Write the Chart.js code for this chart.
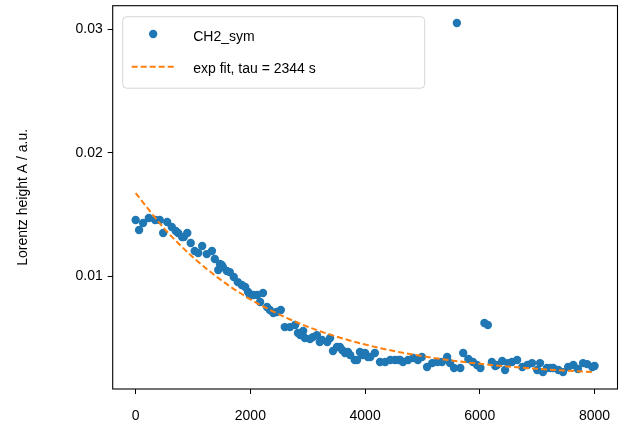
<!DOCTYPE html>
<html><head><meta charset="utf-8">
<script src="https://cdn.jsdelivr.net/npm/chart.js@4/dist/chart.umd.min.js"></script>
<style>html,body{margin:0;padding:0;background:#fff}#wrap{width:624px;height:427px;position:relative}</style>
</head><body><div id="wrap"><canvas id="c" width="624" height="427"></canvas></div>
<script>
// ---- data ----
const timeS = [0,60,130,230,340,420,480,550,630,700,740,810,840,900,960,1030,1090,1160,1240,1330,1380,1440,1470,1500,1520,1590,1640,1710,1780,1850,1910,1960,1990,2050,2120,2170,2220,2290,2340,2400,2460,2530,2600,2690,2780,2830,2870,2920,2950,3040,3090,3160,3210,3250,3340,3390,3440,3510,3560,3600,3650,3700,3740,3820,3860,3910,3960,4000,4050,4090,4170,4260,4350,4440,4520,4580,4610,4660,4750,4840,4920,4990,5080,5170,5260,5340,5430,5480,5550,5600,5660,5710,5800,5880,5950,6010,6080,6140,6210,6270,6300,6390,6440,6490,6560,6650,6740,6830,6910,7000,7050,7100,7170,7230,7280,7370,7450,7540,7630,7710,7800,7870,7960,8000];
const heightA = [0.01454,0.01373,0.01430,0.01470,0.01454,0.01454,0.01349,0.01438,0.01397,0.01365,0.01349,0.01316,0.01316,0.01349,0.01268,0.01203,0.01187,0.01243,0.01178,0.01203,0.01138,0.01049,0.01097,0.01089,0.01073,0.01041,0.01032,0.00992,0.00951,0.00927,0.00911,0.00870,0.00846,0.00846,0.00846,0.00789,0.00862,0.00749,0.00724,0.00700,0.00708,0.00724,0.00586,0.00586,0.00603,0.00538,0.00521,0.00554,0.00497,0.00489,0.00505,0.00521,0.00465,0.00481,0.00465,0.00497,0.00392,0.00424,0.00424,0.00400,0.00376,0.00384,0.00359,0.00319,0.00319,0.00384,0.00359,0.00376,0.00343,0.00343,0.00376,0.00303,0.00303,0.00319,0.00319,0.00319,0.00319,0.00303,0.00319,0.00335,0.00319,0.00343,0.00262,0.00294,0.00303,0.00303,0.00343,0.00294,0.00254,0.03052,0.00254,0.00376,0.00327,0.00303,0.00278,0.00254,0.00619,0.00603,0.00303,0.00270,0.00278,0.00311,0.00238,0.00294,0.00303,0.00319,0.00262,0.00278,0.00294,0.00238,0.00294,0.00221,0.00254,0.00254,0.00254,0.00238,0.00221,0.00262,0.00278,0.00246,0.00294,0.00286,0.00262,0.00270];
const fitTimeS = [0,500,1000,1500,2000,2500,3000,3500,4000,4500,5000,5500,6000,6500,7000,7500,8000];
const fitHeightA = [0.01673,0.01385,0.01152,0.00964,0.00811,0.00689,0.00589,0.00509,0.00445,0.00392,0.00350,0.00316,0.00288,0.00266,0.00248,0.00233,0.00221];
const xTicks = [0,2000,4000,6000,8000];
const yTicks = [0.01,0.02,0.03];
const seriesLabel = 'CH2_sym';
const fitLabel = 'exp fit, tau = 2344 s';
const yTitle = 'Lorentz height A / a.u.';

// ---- chart ----
const FONT = "'Liberation Sans', Arial, Helvetica, sans-serif";
Chart.defaults.font.family = FONT;
Chart.defaults.font.size = 14;
Chart.defaults.color = '#000';

const framePlugin = {
  id: 'frame',
  afterDatasetsDraw(chart) {
    const {ctx, chartArea: a} = chart;
    ctx.save();
    ctx.strokeStyle = '#000';
    ctx.lineWidth = 1.1;
    ctx.strokeRect(a.left, a.top, a.right - a.left, a.bottom - a.top);
    ctx.restore();
  }
};

const legendPlugin = {
  id: 'boxLegend',
  afterDraw(chart) {
    const {ctx, chartArea: a} = chart;
    const ds = chart.data.datasets;
    const x0 = a.left + 10, y0 = a.top + 11, w = 302, h = 71.5;
    ctx.save();
    ctx.beginPath();
    ctx.roundRect(x0, y0, w, h, 4);
    ctx.fillStyle = 'rgba(255,255,255,0.8)';
    ctx.fill();
    ctx.strokeStyle = 'rgba(204,204,204,0.8)';
    ctx.lineWidth = 1;
    ctx.stroke();
    // entry 1: marker
    ctx.fillStyle = ds[0].backgroundColor;
    ctx.beginPath();
    ctx.arc(x0 + 30.5, y0 + 17.3, 4.2, 0, 2 * Math.PI);
    ctx.fill();
    ctx.fillStyle = '#000';
    ctx.font = '14px ' + FONT;
    ctx.textBaseline = 'middle';
    ctx.textAlign = 'left';
    ctx.fillText(ds[0].label, x0 + 70.5, y0 + 20);
    // entry 2: dashed line
    ctx.strokeStyle = ds[1].borderColor;
    ctx.lineWidth = ds[1].borderWidth;
    ctx.setLineDash(ds[1].borderDash);
    ctx.beginPath();
    ctx.moveTo(x0 + 9, y0 + 50);
    ctx.lineTo(x0 + 52, y0 + 50);
    ctx.stroke();
    ctx.setLineDash([]);
    ctx.fillStyle = '#000';
    ctx.fillText(ds[1].label, x0 + 70.5, y0 + 52.5);
    ctx.restore();
  }
};

const gridOpts = {display: true, drawOnChartArea: false, drawTicks: true, tickLength: 5, color: '#000', lineWidth: 1};

new Chart(document.getElementById('c'), {
  type: 'scatter',
  data: {
    datasets: [
      {
        label: seriesLabel,
        data: timeS.map((t, i) => ({x: t, y: heightA[i]})),
        backgroundColor: '#1f77b4',
        borderColor: '#1f77b4',
        borderWidth: 0,
        pointRadius: 4.2,
        pointHoverRadius: 4.2,
        order: 1
      },
      {
        label: fitLabel,
        data: fitTimeS.map((t, i) => ({x: t, y: fitHeightA[i]})),
        showLine: true,
        borderColor: '#ff7f0e',
        backgroundColor: '#ff7f0e',
        borderWidth: 2,
        borderDash: [6, 3],
        pointRadius: 0,
        pointHoverRadius: 0,
        cubicInterpolationMode: 'monotone',
        fill: false,
        order: 0
      }
    ]
  },
  options: {
    responsive: false,
    animation: false,
    devicePixelRatio: 1,
    layout: {padding: {left: 0, right: 6.5, top: 5.7, bottom: 0}},
    plugins: {legend: {display: false}, tooltip: {enabled: false}},
    scales: {
      x: {
        type: 'linear', min: -400, max: 8400,
        afterBuildTicks: s => { s.ticks = xTicks.map(v => ({value: v})); },
        afterFit: s => { s.height = 38; s.paddingLeft = 0; s.paddingRight = 0; },
        grid: gridOpts,
        border: {display: false},
        ticks: {padding: 14, color: '#000', font: {size: 14}, maxRotation: 0, autoSkip: false, callback: v => String(v)}
      },
      y: {
        type: 'linear', min: 0.00084, max: 0.03192,
        afterBuildTicks: s => { s.ticks = yTicks.map(v => ({value: v})); },
        afterFit: s => { s.width = 112.7; s.paddingTop = 0; s.paddingBottom = 0; },
        grid: gridOpts,
        border: {display: false},
        ticks: {padding: 5, color: '#000', font: {size: 14}, autoSkip: false, callback: v => v.toFixed(2)},
        title: {display: true, text: yTitle, color: '#000', padding: {top: 15, bottom: 0}, font: {size: 14}}
      }
    }
  },
  plugins: [framePlugin, legendPlugin]
});
</script>
</body></html>
